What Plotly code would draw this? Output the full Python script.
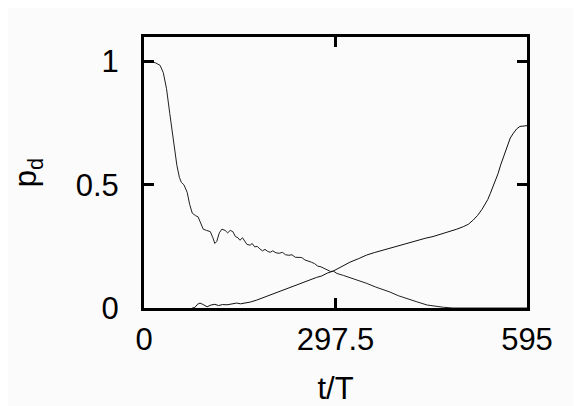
import plotly.graph_objects as go

# decaying population (left-to-right drop)
t_decay = [0, 10, 18, 25, 30, 35, 40, 45, 51, 55, 58, 62, 67, 71, 75, 80, 84, 88, 92, 97,
           103, 107, 110, 113, 117, 121, 126, 130, 134, 138, 142, 146, 149, 153, 156, 160,
           165, 168, 172, 176, 180, 184, 188, 192, 196, 200, 205, 210, 215, 220, 225, 230,
           235, 240, 245, 250, 255, 260, 265, 270, 275, 280, 285, 290, 294, 300, 310, 320,
           330, 346, 360, 370, 382, 395, 410, 424, 440, 455, 465, 480, 520, 595]
p_decay = [1.0, 1.0, 0.995, 0.985, 0.955, 0.89, 0.79, 0.69, 0.58, 0.53, 0.51, 0.50, 0.47,
           0.42, 0.385, 0.375, 0.37, 0.345, 0.32, 0.315, 0.31, 0.285, 0.262, 0.27, 0.305,
           0.32, 0.315, 0.305, 0.315, 0.31, 0.29, 0.285, 0.275, 0.285, 0.275, 0.258, 0.255,
           0.262, 0.248, 0.25, 0.24, 0.232, 0.238, 0.23, 0.226, 0.232, 0.224, 0.222, 0.226,
           0.216, 0.214, 0.216, 0.206, 0.204, 0.205, 0.195, 0.192, 0.186, 0.18, 0.17, 0.167,
           0.16, 0.154, 0.148, 0.15, 0.14, 0.132, 0.124, 0.115, 0.10, 0.085, 0.077, 0.065,
           0.05, 0.036, 0.025, 0.012, 0.006, 0.003, 0.0, 0.0, 0.0]

# growing population
t_grow = [75, 79, 83, 87, 92, 98, 104, 110, 116, 122, 129, 136, 144, 150, 157, 165, 175,
          185, 196, 206, 216, 227, 238, 248, 258, 268, 276, 285, 294, 303, 312, 320, 333,
          346, 358, 371, 385, 398, 411, 424, 437, 449, 462, 475, 486, 496, 504, 511, 518,
          525, 530, 534, 538, 542, 546, 550, 554, 558, 564, 569, 574, 579, 584, 590, 595]
p_grow = [0.0, 0.002, 0.015, 0.02, 0.014, 0.005, 0.012, 0.015, 0.01, 0.014, 0.013, 0.016,
          0.02, 0.017, 0.02, 0.024, 0.032, 0.042, 0.053, 0.063, 0.073, 0.083, 0.093, 0.103,
          0.113, 0.124, 0.13, 0.142, 0.15, 0.163, 0.175, 0.186, 0.2, 0.215, 0.225, 0.235,
          0.245, 0.255, 0.265, 0.275, 0.283, 0.29, 0.3, 0.31, 0.32, 0.33, 0.34, 0.356, 0.375,
          0.40, 0.42, 0.44, 0.465, 0.49, 0.52, 0.545, 0.58, 0.61, 0.66, 0.69, 0.71, 0.727,
          0.737, 0.74, 0.74]

x_ticks = [0, 297.5, 595]
x_labels = ["0", "297.5", "595"]
y_ticks = [0, 0.5, 1]
y_labels = ["0", "0.5", "1"]

font = dict(family="Liberation Sans, Arial, sans-serif", size=31, color="black")

fig = go.Figure()
fig.add_trace(go.Scatter(x=t_decay, y=p_decay, mode="lines",
                         line=dict(color="#202020", width=1), showlegend=False))
fig.add_trace(go.Scatter(x=t_grow, y=p_grow, mode="lines",
                         line=dict(color="#101010", width=1), showlegend=False))

axis_style = dict(
    showline=True, linecolor="black", linewidth=3, mirror="ticks",
    ticks="inside", ticklen=10, tickwidth=3, tickcolor="black",
    showgrid=False, zeroline=False, tickfont=font, automargin=False,
)

# page body adds ~8px offset, so the figure is a bit smaller than the window
fig.update_layout(
    width=573, height=398,
    margin=dict(l=136, r=54, t=29, b=98),
    paper_bgcolor="#fbfbfb", plot_bgcolor="#fbfbfb",
    font=font,
    xaxis=dict(range=[0, 595], tickvals=x_ticks, ticktext=x_labels,
               title=dict(text="t/T", font=font, standoff=30),
               ticklabelstandoff=2, **axis_style),
    yaxis=dict(range=[0, 1.1], tickvals=y_ticks, ticktext=y_labels,
               title=dict(text="p<sub>d</sub>", font=font, standoff=30),
               ticklabelstandoff=16, **axis_style),
)

fig.write_html("out.html")
